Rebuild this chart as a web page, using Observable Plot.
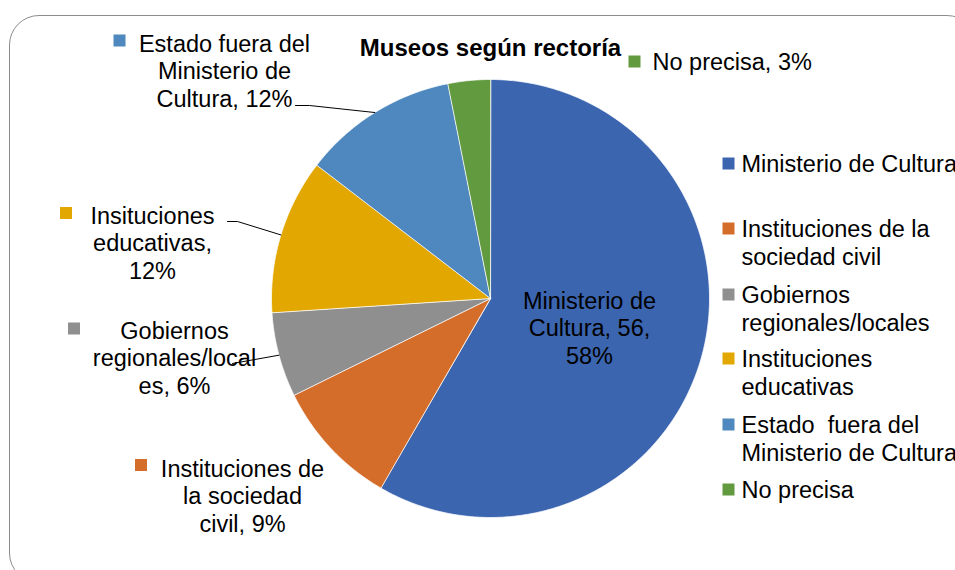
<!DOCTYPE html>
<html>
<head>
<meta charset="utf-8">
<script src="https://cdn.jsdelivr.net/npm/d3@7"></script>
<script src="https://cdn.jsdelivr.net/npm/@observablehq/plot@0.6"></script>
<style>
  html, body { margin: 0; padding: 0; background: #ffffff; overflow: hidden; }
  #wrap { position: relative; width: 955px; height: 570px; overflow: hidden; }
  #frame { position: absolute; left: 9px; top: 15px; width: 968px; height: 568px;
           border: 1.5px solid #8c8c8c; border-radius: 30px; box-sizing: border-box; }
  #chart { position: absolute; left: 0; top: 0; }
</style>
</head>
<body>
<div id="wrap"><div id="frame"></div><div id="chart"></div></div>
<script>
// ---- data ----
const title = "Museos según rectoría";
const categories = [
  "Ministerio de Cultura",
  "Instituciones de la sociedad civil",
  "Gobiernos regionales/locales",
  "Instituciones educativas",
  "Estado fuera del Ministerio de Cultura",
  "No precisa"
];
const counts = [56, 9, 6, 11, 11, 3];
const percents = [58, 9, 6, 12, 12, 3];
const sliceLabels = [
  "Ministerio de\nCultura, 56,\n58%",
  "Instituciones de\nla sociedad\ncivil, 9%",
  "Gobiernos\nregionales/local\nes, 6%",
  "Insituciones\neducativas,\n12%",
  "Estado fuera del\nMinisterio de\nCultura, 12%",
  "No precisa, 3%"
];
const legendLabels = [
  "Ministerio de Cultura",
  "Instituciones de la\nsociedad civil",
  "Gobiernos\nregionales/locales",
  "Instituciones\neducativas",
  "Estado  fuera del\nMinisterio de Cultura",
  "No precisa"
];
const colors = ["#3C65AF", "#D56D2A", "#8F8F8F", "#E2A700", "#4F88BE", "#629A40"];

// ---- layout (pixels) ----
const W = 955, H = 570;
const cx = 490, cy = 298, R = 219;
const fontSize = 23.5, lineH = 27.5;
const keySide = 12;
const labelLayout = [
  {x: 589, y: 327, anchor: "middle", key: null, leader: null},
  {x: 242, y: 495, anchor: "middle", key: [140.5, 464.5], leader: null},
  {x: 174, y: 357, anchor: "middle", key: [73.5, 328], leader: [[232, 363]]},
  {x: 152, y: 242, anchor: "middle", key: [65.5, 212.5], leader: [[227, 221], [237, 221]]},
  {x: 224, y: 70, anchor: "middle", key: [119, 40], leader: [[295, 105], [309, 105]]},
  {x: 652, y: 61, anchor: "start", key: [634, 61], leader: null}
];
const legendX = 728, legendTextX = 741;
const legendRowY = [163, 228, 294, 358, 424, 489];
const titlePos = [490, 48];

// pixel -> data units
const X = px => (px - cx) / R;
const Y = py => (cy - py) / R;

// ---- pie geometry from data ----
const total = d3.sum(counts);
let acc = 0;
const slices = categories.map((c, i) => {
  const a0 = acc / total * 2 * Math.PI;
  acc += counts[i];
  const a1 = acc / total * 2 * Math.PI;
  return {cat: c, a0, a1, mid: (a0 + a1) / 2, i};
});
const slicePts = [];
for (const s of slices) {
  slicePts.push({cat: s.cat, x: 0, y: 0});
  const n = Math.max(4, Math.ceil((s.a1 - s.a0) / 0.01));
  for (let k = 0; k <= n; k++) {
    const a = s.a0 + (s.a1 - s.a0) * k / n;
    slicePts.push({cat: s.cat, x: Math.sin(a), y: Math.cos(a)});
  }
}

// labels
const labelData = slices.map((s, i) => ({
  cat: s.cat, text: sliceLabels[i], x: X(labelLayout[i].x), y: Y(labelLayout[i].y), anchor: labelLayout[i].anchor
}));
const keyData = slices.filter((s, i) => labelLayout[i].key).map(s => ({
  cat: s.cat, x: X(labelLayout[s.i].key[0]), y: Y(labelLayout[s.i].key[1])
}));
const leaderPts = [];
slices.forEach((s, i) => {
  const L = labelLayout[i].leader;
  if (!L) return;
  for (const p of L) leaderPts.push({cat: s.cat, x: X(p[0]), y: Y(p[1])});
  leaderPts.push({cat: s.cat, x: Math.sin(s.mid), y: Math.cos(s.mid)});
});

// legend
const legendData = categories.map((c, i) => {
  const nLines = legendLabels[i].split("\n").length;
  return {
    cat: c, text: legendLabels[i],
    kx: X(legendX), ky: Y(legendRowY[i]),
    tx: X(legendTextX), ty: Y(legendRowY[i] + (nLines - 1) * lineH / 2)
  };
});

const sqR = keySide / Math.sqrt(Math.PI);

const chart = Plot.plot({
  width: W, height: H,
  marginLeft: cx - R, marginRight: W - cx - R,
  marginTop: cy - R, marginBottom: H - cy - R,
  x: {domain: [-1, 1], axis: null},
  y: {domain: [-1, 1], axis: null},
  color: {domain: categories, range: colors},
  style: {fontFamily: "'Liberation Sans', Arial, sans-serif", background: "transparent", overflow: "hidden"},
  marks: [
    Plot.line(slicePts, {x: "x", y: "y", z: "cat", fill: "cat", stroke: "#ffffff", strokeWidth: 0.75, curve: "linear-closed"}),
    Plot.line(leaderPts, {x: "x", y: "y", z: "cat", stroke: "#000000", strokeWidth: 1}),
    Plot.text(labelData.filter(d => d.anchor === "middle"), {x: "x", y: "y", text: "text", textAnchor: "middle", fontSize, lineHeight: lineH / fontSize, fill: "#000000"}),
    Plot.text(labelData.filter(d => d.anchor === "start"), {x: "x", y: "y", text: "text", textAnchor: "start", fontSize, lineHeight: lineH / fontSize, fill: "#000000"}),
    Plot.dot(keyData, {x: "x", y: "y", fill: "cat", symbol: "square", r: sqR, stroke: null}),
    Plot.dot(legendData, {x: "kx", y: "ky", fill: "cat", symbol: "square", r: sqR, stroke: null}),
    Plot.text(legendData, {x: "tx", y: "ty", text: "text", textAnchor: "start", fontSize, lineHeight: lineH / fontSize, fill: "#000000"}),
    Plot.text([title], {x: () => X(titlePos[0]), y: () => Y(titlePos[1]), text: d => d, fontSize: 24, fontWeight: "bold", fill: "#000000"})
  ]
});
document.getElementById("chart").appendChild(chart);
</script>
</body>
</html>
